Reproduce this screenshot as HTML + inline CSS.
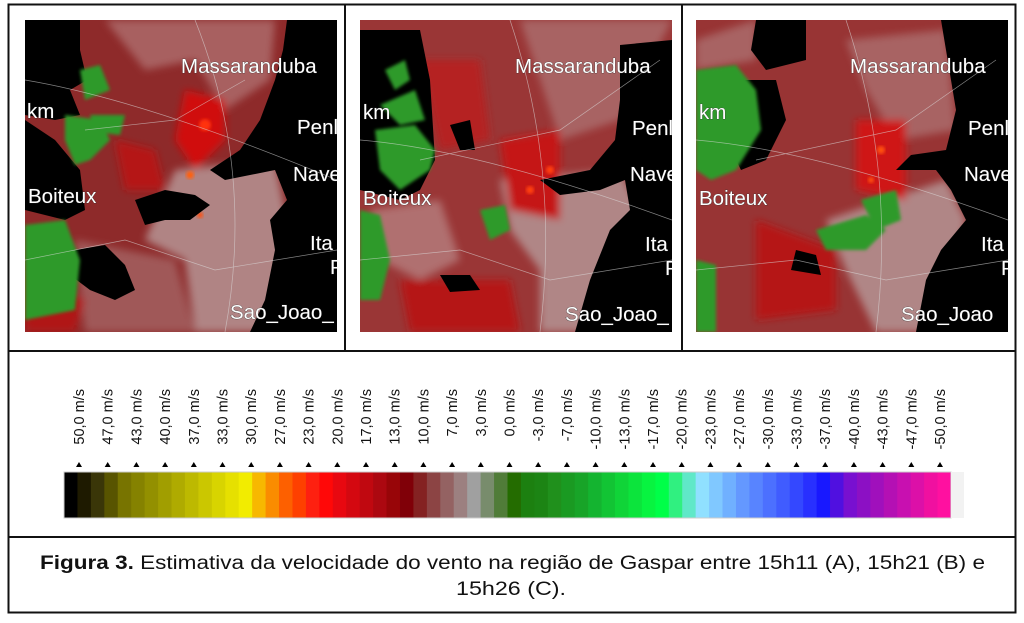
<!DOCTYPE html>
<html><head><meta charset="utf-8"><style>
html,body{margin:0;padding:0;background:#fff;}
svg{display:block;}
.lbl{font-family:"Liberation Sans",sans-serif;font-size:20.5px;fill:#fff;stroke:#333;stroke-width:0.6px;paint-order:stroke;}
.tk{font-family:"Liberation Sans",sans-serif;font-size:14.5px;fill:#111;}
.cap{font-family:"Liberation Sans",sans-serif;font-size:19px;fill:#111;}
</style></head><body>
<svg width="1024" height="623" viewBox="0 0 1024 623" xmlns="http://www.w3.org/2000/svg">
<defs>
<filter id="bl" x="-10%" y="-10%" width="120%" height="120%"><feGaussianBlur stdDeviation="4"/></filter>
<filter id="bs"><feGaussianBlur stdDeviation="1.5"/></filter>
<clipPath id="cp"><rect width="312" height="312"/></clipPath>
</defs>
<rect x="8.5" y="4.5" width="1007" height="608" fill="none" stroke="#111" stroke-width="2"/>
<line x1="8" y1="351" x2="1016" y2="351" stroke="#111" stroke-width="2"/>
<line x1="8" y1="537" x2="1016" y2="537" stroke="#111" stroke-width="2"/>
<line x1="345" y1="4" x2="345" y2="351" stroke="#111" stroke-width="2"/>
<line x1="682" y1="4" x2="682" y2="351" stroke="#111" stroke-width="2"/>

<!-- Panel A -->
<g transform="translate(25,20)" clip-path="url(#cp)">
<rect width="312" height="312" fill="#8e2a2a"/>
<g filter="url(#bl)">
<path d="M80 0 L250 0 L245 60 L200 90 L170 40 L120 50 Z" fill="#a86060"/>
<path d="M150 150 L250 140 L262 200 L250 312 L170 312 L160 240 L120 220 Z" fill="#b08484"/>
<path d="M50 220 L150 240 L170 312 L60 312 Z" fill="#a05858"/>
<path d="M160 70 L200 80 L200 120 L170 150 L150 120 Z" fill="#d01010"/>
<path d="M90 120 L130 130 L140 170 L100 170 Z" fill="#b51818"/>
<path d="M0 250 L60 280 L50 312 L0 312 Z" fill="#b01818"/>
</g>
<circle cx="180" cy="105" r="6" fill="#ff3010" filter="url(#bs)"/>
<circle cx="165" cy="155" r="4" fill="#ff6010" filter="url(#bs)"/>
<circle cx="175" cy="195" r="3" fill="#ff5010" filter="url(#bs)"/>
<g fill="#000">
<path d="M0 0 L55 0 L55 30 L62 60 L45 70 L55 95 L30 100 L0 95 Z"/>
<path d="M262 0 L312 0 L312 312 L225 312 L240 280 L250 230 L245 200 L262 180 L250 150 L200 160 L185 150 L215 130 L235 100 L250 60 L258 30 Z"/>
<path d="M110 180 L140 170 L170 175 L185 185 L165 200 L140 200 L120 205 Z"/>
<path d="M50 230 L80 225 L100 245 L110 270 L90 280 L65 270 L45 255 Z"/>
<path d="M0 100 L30 120 L55 150 L60 190 L40 200 L0 190 Z"/>
</g>
<g filter="url(#bs)" fill="#2f9a2a">
<path d="M0 205 L40 200 L55 240 L50 290 L0 300 Z"/>
<path d="M40 95 L75 100 L85 120 L65 140 L50 145 L40 120 Z"/>
<path d="M55 50 L75 45 L85 70 L60 80 Z"/>
<path d="M65 95 L100 95 L95 115 L70 112 Z"/>
</g>
<g fill="none" stroke="#ddd" stroke-width="0.7" opacity="0.6">
<path d="M0 60 Q120 80 312 160"/><path d="M170 0 Q230 150 200 312"/><path d="M60 110 L150 100 L220 60"/><path d="M0 240 L100 220 L190 250 L312 230"/>
</g>
<text class="lbl" x="156" y="53">Massaranduba</text>
<text class="lbl" x="2" y="98">km</text>
<text class="lbl" x="272" y="114">Penl</text>
<text class="lbl" x="268" y="161">Nave</text>
<text class="lbl" x="3" y="183">Boiteux</text>
<text class="lbl" x="285" y="230">Ita</text>
<text class="lbl" x="305" y="254">P</text>
<text class="lbl" x="205" y="299">Sao_Joao_</text>
</g>

<!-- Panel B -->
<g transform="translate(360,20)" clip-path="url(#cp)">
<rect width="312" height="312" fill="#9a3636"/>
<g filter="url(#bl)">
<path d="M160 0 L312 0 L260 100 L200 120 L180 60 Z" fill="#a86464"/>
<path d="M140 160 L260 150 L280 190 L240 312 L180 312 L180 250 L150 210 Z" fill="#b08686"/>
<path d="M10 190 L80 180 L100 240 L60 260 L20 240 Z" fill="#b07070"/>
<path d="M140 120 L200 110 L200 200 L150 190 Z" fill="#c51515"/>
<path d="M60 40 L120 40 L130 120 L80 130 Z" fill="#b52020"/>
<path d="M40 260 L150 260 L160 312 L50 312 Z" fill="#b51818"/>
</g>
<circle cx="170" cy="170" r="4" fill="#ff4010" filter="url(#bs)"/>
<circle cx="190" cy="150" r="4" fill="#ff4010" filter="url(#bs)"/>
<g fill="#000">
<path d="M0 10 L60 10 L70 60 L75 140 L60 170 L40 180 L0 170 Z"/>
<path d="M260 25 L312 20 L312 312 L215 312 L230 260 L250 210 L270 190 L265 160 L240 170 L200 175 L180 160 L230 150 L255 120 L260 80 Z"/>
<path d="M90 105 L110 100 L115 130 L100 130 Z"/>
<path d="M80 255 L110 255 L120 270 L90 272 Z"/>
</g>
<g filter="url(#bs)" fill="#2f9a2a">
<path d="M0 280 L0 190 L20 195 L30 240 L20 280 Z"/>
<path d="M15 110 L55 105 L75 130 L70 150 L40 170 L20 150 Z"/>
<path d="M20 85 L55 70 L65 100 L40 105 Z"/>
<path d="M25 50 L45 40 L50 60 L35 70 Z"/>
<path d="M120 190 L145 185 L150 210 L130 220 Z"/>
</g>
<g fill="none" stroke="#ddd" stroke-width="0.7" opacity="0.6">
<path d="M0 120 Q120 130 312 200"/><path d="M150 0 Q200 150 180 312"/><path d="M0 240 L100 230 L190 260 L312 240"/><path d="M60 140 L200 110 L300 40"/>
</g>
<text class="lbl" x="155" y="53">Massaranduba</text>
<text class="lbl" x="3" y="99">km</text>
<text class="lbl" x="272" y="115">Penl</text>
<text class="lbl" x="270" y="161">Nave</text>
<text class="lbl" x="3" y="185">Boiteux</text>
<text class="lbl" x="285" y="231">Ita</text>
<text class="lbl" x="305" y="255">P</text>
<text class="lbl" x="205" y="301">Sao_Joao_</text>
</g>

<!-- Panel C -->
<g transform="translate(696,20)" clip-path="url(#cp)">
<rect width="312" height="312" fill="#983434"/>
<g filter="url(#bl)">
<path d="M150 20 L250 10 L260 110 L200 120 L170 70 Z" fill="#a86464"/>
<path d="M130 200 L250 160 L270 200 L240 312 L180 312 L150 250 Z" fill="#b08686"/>
<path d="M0 20 L60 0 L60 40 L0 50 Z" fill="#a86464"/>
<path d="M160 100 L210 100 L210 180 L160 170 Z" fill="#cf1515"/>
<path d="M60 200 L140 230 L140 290 L60 300 Z" fill="#b51818"/>
</g>
<circle cx="185" cy="130" r="4" fill="#ff5010" filter="url(#bs)"/>
<circle cx="175" cy="160" r="3" fill="#ff5010" filter="url(#bs)"/>
<g fill="#000">
<path d="M60 0 L110 0 L110 40 L70 50 L55 30 Z"/>
<path d="M245 0 L312 0 L312 312 L220 312 L230 260 L245 230 L270 200 L255 170 L240 150 L200 150 L215 135 L250 130 L260 90 Z"/>
<path d="M40 60 L80 60 L90 100 L70 140 L45 150 L30 120 Z"/>
<path d="M100 230 L120 235 L125 255 L95 250 Z"/>
</g>
<g filter="url(#bs)" fill="#2f9a2a">
<path d="M0 50 L40 45 L60 70 L65 110 L40 150 L15 160 L0 150 Z"/>
<path d="M120 210 L170 195 L190 210 L170 230 L130 230 Z"/>
<path d="M0 240 L20 245 L20 312 L0 312 Z"/>
<path d="M165 180 L200 170 L205 200 L180 210 Z"/>
</g>
<g fill="none" stroke="#ddd" stroke-width="0.7" opacity="0.6">
<path d="M0 120 Q120 130 312 200"/><path d="M150 0 Q200 150 180 312"/><path d="M0 250 L100 240 L190 260 L312 240"/><path d="M60 140 L200 110 L300 40"/>
</g>
<text class="lbl" x="154" y="53">Massaranduba</text>
<text class="lbl" x="3" y="99">km</text>
<text class="lbl" x="272" y="115">Penl</text>
<text class="lbl" x="268" y="161">Nave</text>
<text class="lbl" x="3" y="185">Boiteux</text>
<text class="lbl" x="285" y="231">Ita</text>
<text class="lbl" x="305" y="255">P</text>
<text class="lbl" x="205" y="301">Sao_Joao</text>
</g>

<g id="cb"></g>
<rect x="64" y="472" width="887" height="46" fill="none" stroke="#ccc" stroke-width="1"/>
<rect x="951" y="472" width="13" height="46" fill="#f2f2f2"/>
<g id="ticks"></g>

<text class="cap" x="40" y="569" textLength="945" lengthAdjust="spacingAndGlyphs"><tspan font-weight="bold">Figura 3.</tspan> Estimativa da velocidade do vento  na região de Gaspar entre 15h11 (A), 15h21 (B) e</text>
<text class="cap" x="456" y="595" textLength="110" lengthAdjust="spacingAndGlyphs">15h26 (C).</text>

<script>
var cols=["#000000","#1e1a00","#3a3608","#585400","#787400","#858200","#939000","#a19e00","#afab00","#bdb900","#cbc700","#d8d400","#e6e000","#f2ec00","#f7b800","#fa8c00","#fd6000","#fe4000","#fe2010","#ff0808","#e80810","#d40810","#c00810","#ac0810","#980508","#800008","#842222","#8c4444","#946262","#9c8080","#a0a0a0","#788c6c","#507c38","#246c00","#1c8010","#1c8414","#20901c","#1a9a22","#18a428","#14b430","#12c434","#10d438","#0ce43c","#08f440","#00ff48","#30f080","#60e8c8","#90e0ff","#80c8ff","#70b0ff","#6498ff","#5884ff","#4c70ff","#405cff","#3448ff","#2830ff","#1818ff","#5010e0","#7810d0","#8c10c4","#a010bc","#b410b4","#c810b0","#dc10a8","#f010a0","#ff10a0"];
var ns="http://www.w3.org/2000/svg",cb=document.getElementById("cb"),w=887/cols.length;
cols.forEach(function(c,i){var r=document.createElementNS(ns,"rect");r.setAttribute("x",64+i*w);r.setAttribute("y",472);r.setAttribute("width",w+0.6);r.setAttribute("height",46);r.setAttribute("fill",c);cb.appendChild(r);});
var labs=["50,0","47,0","43,0","40,0","37,0","33,0","30,0","27,0","23,0","20,0","17,0","13,0","10,0","7,0","3,0","0,0","-3,0","-7,0","-10,0","-13,0","-17,0","-20,0","-23,0","-27,0","-30,0","-33,0","-37,0","-40,0","-43,0","-47,0","-50,0"];
var tk=document.getElementById("ticks");
labs.forEach(function(l,i){var x=79+i*28.7;
var t=document.createElementNS(ns,"text");t.setAttribute("class","tk");t.setAttribute("text-anchor","end");
t.setAttribute("transform","translate("+(x+5)+",389) rotate(-90)");t.textContent=l+" m/s";tk.appendChild(t);
var p=document.createElementNS(ns,"path");p.setAttribute("d","M"+(x-3)+" 467 L"+(x+3)+" 467 L"+x+" 462 Z");p.setAttribute("fill","#000");tk.appendChild(p);});
</script>
</svg>
</body></html>
